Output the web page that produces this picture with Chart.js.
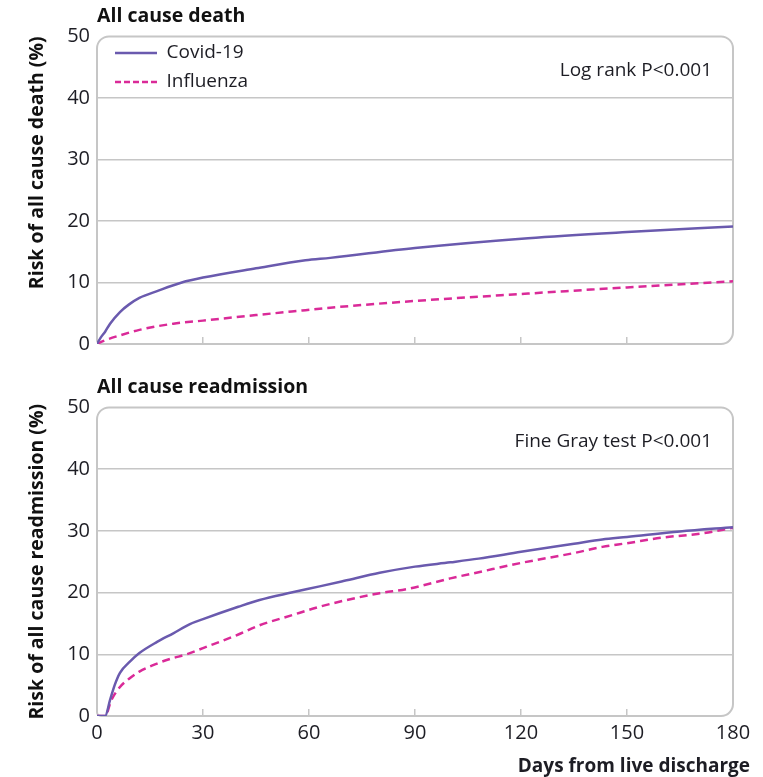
<!DOCTYPE html>
<html>
<head>
<meta charset="utf-8">
<script src="https://cdn.jsdelivr.net/npm/chart.js@4.4.1/dist/chart.umd.min.js"></script>
<style>
  html, body { margin: 0; padding: 0; background: #fff; }
  #wrap { position: relative; width: 763px; height: 777px; overflow: hidden; }
  #deathBox { position: absolute; left: 0; top: 0; width: 763px; height: 371px; }
  #readmitBox { position: absolute; left: 0; top: 371px; width: 763px; height: 406px; }
</style>
</head>
<body>
<div id="wrap">
  <div id="deathBox"><canvas id="deathChart" width="763" height="371"></canvas></div>
  <div id="readmitBox"><canvas id="readmitChart" width="763" height="406"></canvas></div>
</div>
<script>
// ---- data ----
const xTicks = [0, 30, 60, 90, 120, 150, 180];
const yTicks = [0, 10, 20, 30, 40, 50];

// All cause death
const covidDeathDays = [0, 1, 2.3, 3.7, 6.5, 9, 12, 17, 24, 30, 45, 59, 66, 90, 122, 150, 180];
const covidDeathRisk = [0, 1.0, 2.0, 3.3, 5.2, 6.4, 7.5, 8.6, 10.0, 10.8, 12.3, 13.6, 14.0, 15.6, 17.2, 18.2, 19.1];
const fluDeathDays = [0, 2.3, 6.5, 12, 21.6, 30, 45, 59, 66, 90, 122, 150, 180];
const fluDeathRisk = [0, 0.6, 1.4, 2.3, 3.3, 3.8, 4.7, 5.5, 5.9, 7.0, 8.2, 9.2, 10.2];

// All cause readmission
const covidReadmitDays = [0, 2.3, 3.7, 5, 6.5, 9.3, 12, 17, 21.6, 26.3, 30, 40, 46, 55, 63, 70, 80, 90, 100, 108, 120, 135, 143, 150, 165, 180];
const covidReadmitRisk = [0, 0, 2.6, 5.0, 7.0, 8.8, 10.2, 12.0, 13.4, 14.9, 15.7, 17.7, 18.8, 20.0, 21.0, 21.9, 23.2, 24.2, 24.9, 25.5, 26.6, 27.9, 28.6, 29.0, 29.9, 30.6];
const fluReadmitDays = [0, 2.3, 4, 6.5, 9, 12, 17, 21, 25.4, 30, 40, 46, 55, 63, 70, 80, 88, 100, 108, 120, 135, 143, 150, 160, 171.5, 180];
const fluReadmitRisk = [0, 0, 2.5, 4.7, 6.0, 7.2, 8.5, 9.3, 10.0, 11.0, 13.2, 14.7, 16.3, 17.7, 18.7, 19.9, 20.6, 22.3, 23.3, 24.8, 26.4, 27.4, 28.0, 28.9, 29.6, 30.5];

const seriesNames = ['Covid-19', 'Influenza'];
const covidColor = '#6a5aae';
const fluColor = '#da2a98';
const gridGrey = '#c6c6c6';
const textColor = '#1d1d24';

Chart.defaults.font.family = "'Open Sans', sans-serif";
Chart.defaults.color = textColor;

function toPoints(days, risk) {
    return days.map((d, i) => ({ x: d, y: risk[i] }));
}

// rounded frame around the plot area, legend placement inside it, text notes
const framePlugin = {
    id: 'frame',
    beforeDraw(chart) {
        // legend in 'chartArea' gets its top reset to 0, move it into the plot
        if (chart.legend && chart.options.plugins.legend.display) {
            chart.legend.top = chart.chartArea.top - 3;
            chart.legend.left = chart.chartArea.left + 8;
        }
    },
    beforeDatasetsDraw(chart) {
        const a = chart.chartArea;
        const ctx = chart.ctx;
        ctx.save();
        ctx.strokeStyle = gridGrey;
        ctx.lineWidth = 2;
        ctx.beginPath();
        ctx.roundRect(a.left, a.top, a.right - a.left, a.bottom - a.top, [12, 12, 12, 4]);
        ctx.stroke();
        ctx.restore();
    },
    afterDraw(chart, args, opts) {
        const ctx = chart.ctx;
        const a = chart.chartArea;
        ctx.save();
        ctx.fillStyle = textColor;
        ctx.textAlign = 'right';
        ctx.textBaseline = 'middle';
        if (opts.note) {
            ctx.font = "19px 'Open Sans'";
            ctx.fillText(opts.note, a.right - 21, a.top + 34);
        }
        if (opts.xTitle) {
            ctx.font = "bold 19px 'Open Sans'";
            ctx.fillText(opts.xTitle, 750, chart.height - 10);
        }
        ctx.restore();
    }
};

function makePanel(id, title, yTitle, yTitleAlign, covid, flu, opts) {
    const ctx = document.getElementById(id).getContext('2d');
    return new Chart(ctx, {
        type: 'line',
        plugins: [framePlugin],
        data: {
            datasets: [
                {
                    label: seriesNames[0],
                    data: covid,
                    borderColor: covidColor,
                    backgroundColor: covidColor,
                    borderWidth: 2.5,
                    pointRadius: 0,
                    cubicInterpolationMode: 'monotone'
                },
                {
                    label: seriesNames[1],
                    data: flu,
                    borderColor: fluColor,
                    backgroundColor: fluColor,
                    borderWidth: 2.5,
                    borderDash: [8, 5],
                    pointRadius: 0,
                    cubicInterpolationMode: 'monotone'
                }
            ]
        },
        options: {
            responsive: false,
            animation: false,
            devicePixelRatio: 1,
            layout: { padding: { left: 0, right: 30, top: 0, bottom: 0 } },
            plugins: {
                tooltip: { enabled: false },
                title: {
                    display: true,
                    text: title,
                    align: 'start',
                    fullSize: false,
                    color: '#111',
                    font: { size: 19.5, weight: 'bold' },
                    padding: { top: 5, bottom: 8 }
                },
                legend: {
                    display: opts.legend,
                    position: 'chartArea',
                    align: 'start',
                    labels: {
                        usePointStyle: true,
                        pointStyle: 'line',
                        pointStyleWidth: 42,
                        color: textColor,
                        font: { size: 19 },
                        padding: 10,
                        // point-style items lose the dataset dash, put it back
                        generateLabels: chart => Chart.defaults.plugins.legend.labels.generateLabels(chart).map((item, i) => {
                            const ds = chart.data.datasets[i];
                            item.lineDash = ds.borderDash ? [6, 3] : [];
                            item.lineWidth = ds.borderWidth;
                            item.strokeStyle = ds.borderColor;
                            return item;
                        })
                    }
                },
                frame: { note: opts.note, xTitle: opts.xTitle }
            },
            scales: {
                x: {
                    type: 'linear',
                    min: 0,
                    max: 180,
                    afterBuildTicks: s => { s.ticks = xTicks.map(v => ({ value: v })); },
                    afterFit: s => { s.height = opts.xHeight; },
                    border: { display: false },
                    grid: {
                        drawOnChartArea: false,
                        tickLength: -7,
                        lineWidth: 1.5,
                        color: c => (c.tick && (c.tick.value === 0 || c.tick.value === 180)) ? 'rgba(0,0,0,0)' : gridGrey
                    },
                    ticks: {
                        display: opts.xLabels,
                        color: textColor,
                        font: { size: 20 },
                        padding: 12,
                        maxRotation: 0
                    }
                },
                y: {
                    min: 0,
                    max: 50,
                    afterBuildTicks: s => { s.ticks = yTicks.map(v => ({ value: v })); },
                    afterFit: s => { s.width = 97; },
                    border: { display: false },
                    grid: {
                        drawTicks: false,
                        lineWidth: 1.5,
                        color: c => (c.tick && (c.tick.value === 0 || c.tick.value === 50)) ? 'rgba(0,0,0,0)' : gridGrey
                    },
                    ticks: {
                        color: textColor,
                        font: { size: 20 },
                        padding: 7
                    },
                    title: {
                        display: true,
                        text: yTitle,
                        align: yTitleAlign,
                        color: '#111',
                        font: { size: 19.5, weight: 'bold' },
                        padding: { top: 26, bottom: 0 }
                    }
                }
            }
        }
    });
}

makePanel('deathChart', 'All cause death', 'Risk of all cause death (%)', 'end',
    toPoints(covidDeathDays, covidDeathRisk), toPoints(fluDeathDays, fluDeathRisk),
    { legend: true, note: 'Log rank P<0.001', xLabels: false, xHeight: 27 });

makePanel('readmitChart', 'All cause readmission', 'Risk of all cause readmission (%)', 'center',
    toPoints(covidReadmitDays, covidReadmitRisk), toPoints(fluReadmitDays, fluReadmitRisk),
    { legend: false, note: 'Fine Gray test P<0.001', xLabels: true, xHeight: 61, xTitle: 'Days from live discharge' });
</script>
</body>
</html>
